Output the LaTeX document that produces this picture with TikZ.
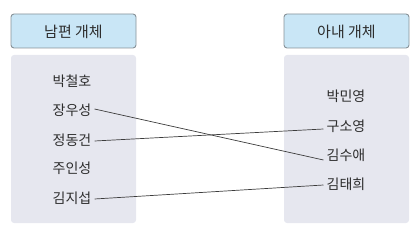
\documentclass[tikz,border=0pt]{standalone}
\usepackage{fontspec}
\setmainfont{Noto Sans CJK KR}
\definecolor{hdrfill}{RGB}{201,230,246}
\definecolor{hdrdraw}{RGB}{135,145,152}
\definecolor{bodyfill}{RGB}{230,231,239}
\definecolor{txt}{RGB}{45,45,45}
\definecolor{lnk}{RGB}{60,60,60}
\begin{document}
\begin{tikzpicture}[x=1pt,y=-1pt,
  hdr/.style={draw=hdrdraw,line width=0.9pt,fill=hdrfill,rounded corners=3pt},
  bodybox/.style={fill=bodyfill,rounded corners=3pt},
  item/.style={font=\fontsize{14}{16}\selectfont,text=txt,inner sep=3pt},
  htext/.style={font=\fontsize{15}{17}\selectfont,text=txt},
  link/.style={draw=lnk,line width=0.7pt}]
\useasboundingbox (0,0) rectangle (420,230);
\draw[hdr] (11,14) rectangle (136,48);
\node[htext] (hl) at (73.5,31.5) {남편 개체};
\draw[hdr] (284,14) rectangle (409,48);
\node[htext] (hr) at (346.5,31.5) {아내 개체};
\fill[bodybox] (11,55) rectangle (136,223);
\fill[bodybox] (284,55) rectangle (409,223);
\node[item] (l1) at (72,81) {박철호};
\node[item] (l2) at (72,110) {장우성};
\node[item] (l3) at (72,140) {정동건};
\node[item] (l4) at (72,168) {주인성};
\node[item] (l5) at (72,198) {김지섭};
\node[item] (r1) at (346,96) {박민영};
\node[item] (r2) at (346,126) {구소영};
\node[item] (r3) at (346,155) {김수애};
\node[item] (r4) at (346,184) {김태희};
\draw[link] ([yshift=1pt]l2.east) -- ([yshift=-5pt]r3.west);
\draw[link] ([yshift=-1pt]l3.east) -- ([yshift=-3pt]r2.west);
\draw[link] ([yshift=-1pt]l5.east) -- ([yshift=-1pt]r4.west);
\end{tikzpicture}
\end{document}
